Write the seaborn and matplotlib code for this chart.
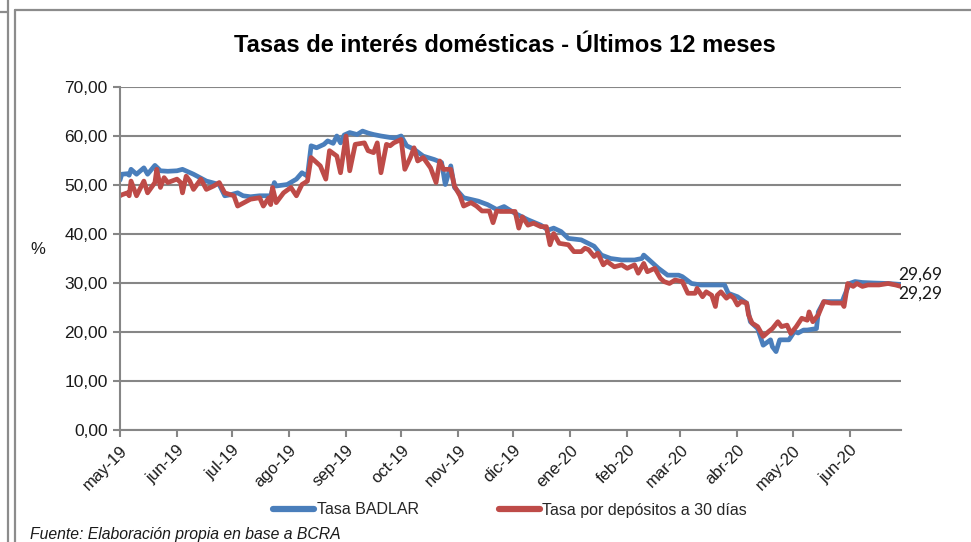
import matplotlib
matplotlib.use("Agg")
import matplotlib.pyplot as plt
from matplotlib import font_manager
from matplotlib.lines import Line2D
import numpy as np
import pandas as pd
import seaborn as sns

# ---------------- data ----------------
title = "Tasas de interés domésticas - Últimos 12 meses"
series_names = ["Tasa BADLAR", "Tasa por depósitos a 30 días"]
start_date = "2019-05-01"
end_date = "2020-06-29"

# days counted from start_date
badlar_day = [0, 1, 4, 5, 6, 9, 13, 15, 19, 22, 26, 31, 34, 40, 47, 54, 57, 60, 64, 67,
              71, 76, 82, 84, 85, 91, 96, 99, 102, 104, 107, 111, 113, 116, 118, 120, 122, 125, 129, 132,
              135, 138, 142, 147, 150, 153, 156, 160, 165, 171, 175, 177, 180, 182, 187, 195, 200, 205, 209, 215,
              222, 229, 233, 236, 240, 244, 251, 258, 262, 267, 273, 280, 284, 285, 288, 293, 298, 304, 306, 311,
              316, 324, 329, 331, 336, 341, 343, 347, 350, 354, 355, 357, 359, 364, 367, 369, 372, 374, 379, 380,
              383, 387, 393, 394, 397, 400, 404, 410, 418, 425]
badlar_val = [51.0, 52.2, 52.3, 52.0, 53.2, 52.2, 53.5, 52.2, 54.0, 52.9, 52.8, 52.9, 53.2, 52.2, 50.8, 50.1, 47.8, 48.0, 48.4, 47.8,
              47.6, 47.8, 47.8, 50.5, 49.8, 50.1, 51.2, 52.5, 51.8, 58.0, 57.6, 58.3, 59.0, 58.5, 60.0, 58.6, 60.2, 60.7, 60.3, 61.0,
              60.6, 60.3, 60.0, 59.7, 59.6, 60.0, 58.0, 57.3, 55.9, 55.2, 54.6, 50.1, 53.9, 49.5, 47.4, 46.7, 46.0, 45.0, 45.6, 44.2,
              42.9, 41.8, 40.8, 41.2, 40.5, 39.1, 38.8, 37.5, 35.7, 35.0, 34.7, 34.7, 35.0, 35.7, 34.7, 33.0, 31.6, 31.6, 31.3, 29.9,
              29.6, 29.6, 29.6, 27.9, 27.2, 25.9, 22.1, 20.7, 17.3, 18.4, 17.0, 16.0, 18.4, 18.4, 20.1, 19.8, 20.4, 20.4, 20.7, 24.1,
              26.2, 26.2, 26.2, 27.2, 29.9, 30.3, 30.1, 30.0, 29.9, 29.69]

plazo_day = [0, 1, 4, 5, 6, 9, 13, 15, 19, 20, 22, 24, 26, 31, 33, 34, 36, 38, 40, 44,
             47, 51, 54, 57, 62, 64, 71, 76, 78, 81, 82, 83, 85, 89, 93, 96, 99, 102, 104, 109,
             112, 114, 118, 120, 123, 125, 128, 133, 135, 138, 140, 142, 145, 147, 149, 153, 155, 158, 160, 162,
             165, 169, 172, 174, 176, 180, 182, 185, 187, 191, 194, 197, 201, 203, 205, 207, 211, 215, 217, 219,
             222, 225, 229, 232, 234, 236, 239, 244, 247, 251, 253, 255, 258, 260, 263, 265, 269, 273, 276, 280,
             282, 285, 287, 291, 294, 296, 299, 302, 306, 309, 313, 314, 317, 319, 322, 324, 325, 327, 330, 332,
             334, 336, 338, 341, 342, 344, 347, 350, 353, 355, 358, 360, 363, 365, 368, 371, 374, 375, 377, 380,
             383, 387, 393, 394, 396, 399, 401, 404, 407, 413, 418, 422, 425]
plazo_val = [47.8, 48.0, 48.4, 47.8, 50.8, 47.8, 50.8, 48.4, 50.5, 53.2, 49.5, 51.5, 50.5, 51.2, 50.5, 48.4, 51.8, 50.8, 49.1, 51.2,
             49.1, 49.8, 50.5, 48.4, 47.8, 45.7, 47.1, 47.4, 45.7, 47.4, 46.0, 49.5, 46.4, 48.4, 49.5, 47.8, 50.1, 50.8, 55.6, 53.9,
             51.2, 57.0, 55.9, 52.5, 60.0, 52.9, 58.3, 58.6, 57.0, 56.6, 58.6, 52.5, 58.3, 58.0, 58.6, 59.3, 53.2, 55.6, 57.6, 54.9,
             55.6, 53.5, 50.5, 54.9, 53.2, 53.2, 49.8, 47.8, 45.7, 46.4, 45.7, 44.7, 44.7, 42.3, 44.7, 44.6, 44.6, 44.6, 41.2, 43.5,
             41.8, 42.2, 41.5, 41.5, 37.8, 40.1, 38.1, 37.8, 36.4, 36.4, 37.1, 36.8, 35.4, 36.1, 33.7, 34.4, 33.3, 33.7, 33.0, 33.7,
             32.0, 34.0, 32.3, 33.0, 31.0, 30.3, 29.9, 30.6, 30.3, 27.9, 27.9, 28.9, 27.2, 28.2, 27.5, 25.2, 27.5, 28.2, 26.9, 27.5,
             26.9, 25.5, 26.2, 25.9, 23.5, 21.8, 21.1, 19.1, 20.1, 20.7, 22.1, 21.1, 21.4, 19.7, 21.1, 22.8, 22.4, 24.1, 22.1, 23.5,
             26.2, 25.9, 25.9, 25.2, 29.9, 29.3, 29.9, 29.3, 29.6, 29.6, 29.9, 29.6, 29.29]

tick_labels = ["may-19", "jun-19", "jul-19", "ago-19", "sep-19", "oct-19", "nov-19",
               "dic-19", "ene-20", "feb-20", "mar-20", "abr-20", "may-20", "jun-20"]
y_ticks = [0, 10, 20, 30, 40, 50, 60, 70]
end_labels = ["29,69", "29,29"]
source_text = "Fuente: Elaboración propia en base a BCRA"

# ---------------- style ----------------
sns.set_theme(style="white")
avail = {f.name for f in font_manager.fontManager.ttflist}
narrow = "Liberation Sans Narrow" if "Liberation Sans Narrow" in avail else "Liberation Sans"
plt.rcParams["font.family"] = [narrow, "DejaVu Sans"]

blue = "#4A7EBB"
red = "#BE4B48"
grid_c = "#868686"

base = pd.Timestamp(start_date)
df = pd.concat([
    pd.DataFrame({"fecha": base + pd.to_timedelta(badlar_day, unit="D"),
                  "tasa": badlar_val, "serie": series_names[0]}),
    pd.DataFrame({"fecha": base + pd.to_timedelta(plazo_day, unit="D"),
                  "tasa": plazo_val, "serie": series_names[1]}),
])

fig = plt.figure(figsize=(9.71, 5.42), dpi=100)
ax = fig.add_axes([120 / 971, 1 - 430 / 542, 781 / 971, 343 / 542])

sns.lineplot(data=df, x="fecha", y="tasa", hue="serie", palette=[blue, red],
             linewidth=3.4, estimator=None, ax=ax, legend=False)

ax.set_ylim(0, 70)
ax.set_xlim(base, pd.Timestamp(end_date))
ax.set_yticks(y_ticks)
ax.set_yticklabels([f"{v:.2f}".replace(".", ",") for v in y_ticks], fontsize=12.5, color="#1a1a1a")
xt = pd.date_range(start_date, periods=len(tick_labels), freq="MS")
ax.set_xticks(xt)
ax.set_xticklabels(tick_labels, rotation=45, ha="right", va="top",
                   rotation_mode="anchor", fontsize=12, color="#1a1a1a")
ax.set_xlabel("")
ax.set_ylabel("")

ax.grid(axis="y", color=grid_c, linewidth=1.5)
ax.grid(axis="x", visible=False)
ax.set_axisbelow(True)
for s in ["top", "right"]:
    ax.spines[s].set_visible(False)
for s in ["left", "bottom"]:
    ax.spines[s].set_color(grid_c)
    ax.spines[s].set_linewidth(1.5)
ax.tick_params(axis="both", which="major", length=5, width=1.5, color=grid_c,
               direction="out", pad=4, bottom=True, left=True)

# end value labels
ax.annotate(end_labels[0], xy=(df["fecha"].iloc[len(badlar_day) - 1], badlar_val[-1]),
            xytext=(-2, 7), textcoords="offset points", ha="left", va="center",
            fontsize=12.5, family=["Lato", "DejaVu Sans"], color="#1a1a1a",
            annotation_clip=False)
ax.annotate(end_labels[1], xy=(df["fecha"].iloc[-1], plazo_val[-1]),
            xytext=(-2, -5), textcoords="offset points", ha="left", va="center",
            fontsize=12.5, family=["Lato", "DejaVu Sans"], color="#1a1a1a",
            annotation_clip=False)

# legend
handles = [Line2D([0], [0], color=blue, linewidth=4.5, solid_capstyle="round"),
           Line2D([0], [0], color=red, linewidth=4.5, solid_capstyle="round")]
fig.legend(handles, series_names, loc="center", bbox_to_anchor=(510 / 971, 1 - 510 / 542),
           ncol=2, frameon=False, fontsize=11.5, handlelength=2.6, handletextpad=0.15,
           columnspacing=5.0)

# texts
fig.text(505 / 971, 1 - 46 / 542, title, ha="center", va="center",
         fontsize=17, fontweight="bold", color="black")
fig.text(38 / 971, 1 - 250 / 542, "%", ha="center", va="center", fontsize=12, color="#1a1a1a")
fig.text(30 / 971, 1 - 534 / 542, source_text, ha="left", va="center",
         fontsize=11.3, style="italic", color="#1a1a1a")

# frame lines
fc = "#8c8c8c"
fig.add_artist(Line2D([8 / 971, 8 / 971], [0, 1 - 0 / 542], color=fc, lw=1.6, transform=fig.transFigure))
fig.add_artist(Line2D([0, 8 / 971], [1 - 12 / 542, 1 - 12 / 542], color=fc, lw=1.6, transform=fig.transFigure))
fig.add_artist(Line2D([15 / 971, 15 / 971], [0, 1 - 10 / 542], color=fc, lw=1.6, transform=fig.transFigure))
fig.add_artist(Line2D([15 / 971, 1], [1 - 10 / 542, 1 - 10 / 542], color=fc, lw=1.6, transform=fig.transFigure))

fig.savefig("out.png", dpi=100)
